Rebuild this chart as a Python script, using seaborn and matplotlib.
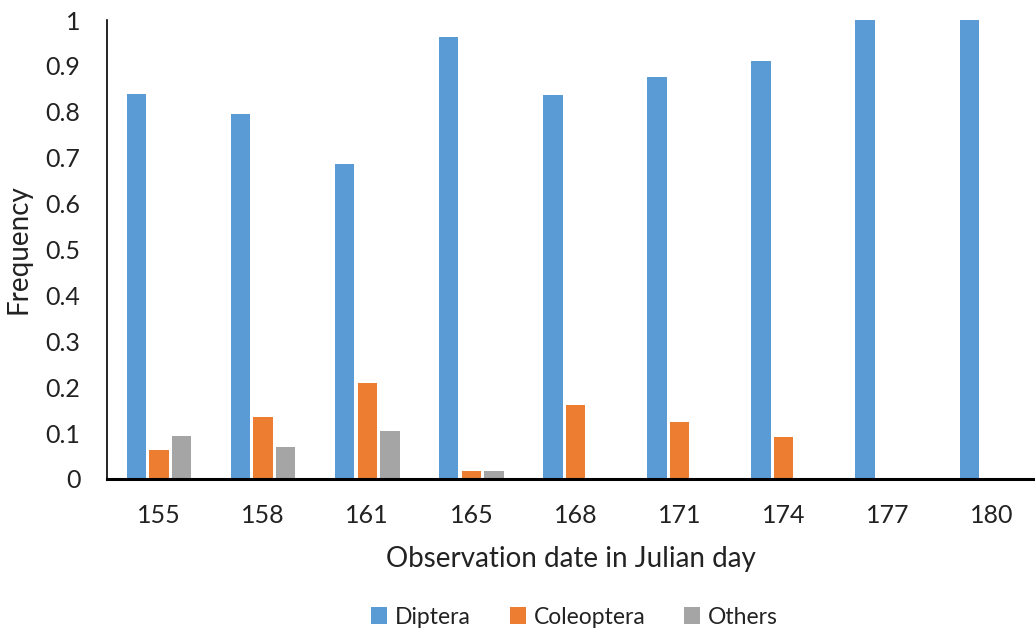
import matplotlib
matplotlib.use("Agg")
import matplotlib.pyplot as plt
import seaborn as sns
import pandas as pd

# Observation dates (Julian day) and relative frequency of each insect order
days = ["155", "158", "161", "165", "168", "171", "174", "177", "180"]
diptera = [0.839, 0.795, 0.686, 0.964, 0.836, 0.875, 0.910, 1.0, 1.0]
coleoptera = [0.063, 0.136, 0.210, 0.018, 0.162, 0.124, 0.091, 0.0, 0.0]
others = [0.094, 0.069, 0.104, 0.018, 0.0, 0.0, 0.0, 0.0, 0.0]
groups = ["Diptera", "Coleoptera", "Others"]
colors = ["#5B9BD5", "#ED7D31", "#A5A5A5"]

df = pd.DataFrame({
    "day": days * 3,
    "freq": diptera + coleoptera + others,
    "group": [g for g in groups for _ in days],
})

sns.set_theme(style="white")
plt.rcParams["font.family"] = ["Lato", "DejaVu Sans"]

fig = plt.figure(figsize=(10.35, 6.33), dpi=100)
W, H = 1035, 633
left, right, top, bottom = 107, 1035, 20, 479
ax = fig.add_axes([left / W, 1 - bottom / H, (right - left) / W, (bottom - top) / H])

sns.barplot(data=df, x="day", y="freq", hue="group", order=days,
            hue_order=groups, palette=colors, saturation=1, width=0.65,
            gap=0.14, linewidth=0, ax=ax)

# category spacing of ~104 px: the right edge crops part of the last slot
ax.set_xlim(-0.5, -0.5 + (right - left) / 104.1)
ax.set_ylim(0, 1)
ax.set_yticks([i / 10 for i in range(11)])
ax.set_yticklabels(["0"] + [f"0.{i}" for i in range(1, 10)] + ["1"])

for s in ["top", "right"]:
    ax.spines[s].set_visible(False)
ax.spines["left"].set_color("black")
ax.spines["left"].set_linewidth(1.2)
ax.spines["bottom"].set_color("black")
ax.spines["bottom"].set_linewidth(2.2)

ax.tick_params(axis="both", length=0, labelsize=18, colors="#222222")
ax.tick_params(axis="y", pad=19)
ax.tick_params(axis="x", pad=18)

ax.set_xlabel("Observation date in Julian day", fontsize=20, color="#222222", labelpad=14)
ax.set_ylabel("Frequency", fontsize=20, color="#222222", labelpad=10)

handles, labels = ax.get_legend_handles_labels()
ax.legend_.remove()
fig.legend(handles, labels, loc="center", bbox_to_anchor=(0.555, 1 - 617 / H),
           ncol=3, frameon=False, fontsize=16.5, handlelength=0.7,
           handleheight=0.7, handletextpad=0.35, columnspacing=1.7,
           labelcolor="#222222")

fig.savefig("out.png", dpi=100)
